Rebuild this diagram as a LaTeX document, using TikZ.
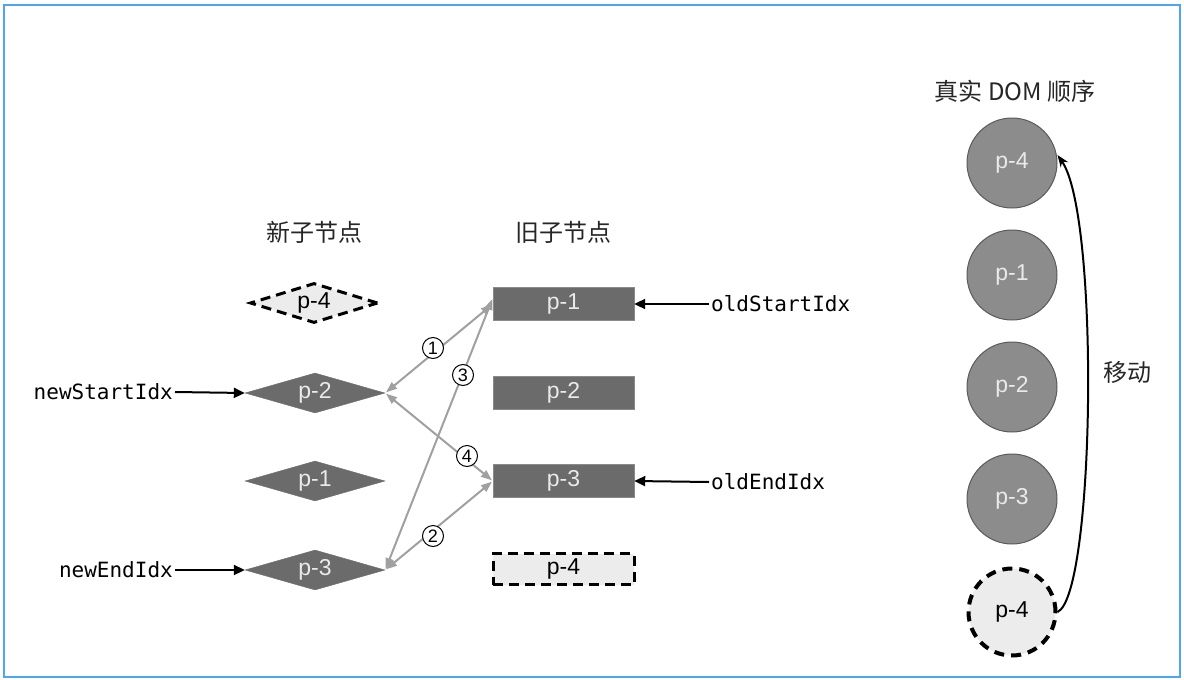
\documentclass[tikz,border=0pt]{standalone}
\usepackage{fontspec}
\setmainfont{Liberation Sans}
\newfontfamily\cjk{Noto Sans CJK SC}
\newfontfamily\monof{DejaVu Sans Mono}
\usetikzlibrary{shapes.geometric,arrows.meta}
\definecolor{dk}{HTML}{6B6B6B}
\definecolor{dkline}{HTML}{8A8A8A}
\definecolor{lt}{HTML}{EAEAEA}
\definecolor{pale}{HTML}{ECECEC}
\definecolor{circfill}{HTML}{8C8C8C}
\definecolor{circline}{HTML}{5A5A5A}
\definecolor{arrgray}{HTML}{A0A0A0}
\definecolor{frame}{HTML}{4DA6F2}
\begin{document}
\begin{tikzpicture}[x=1pt,y=-1pt,
  lbl/.style={font=\fontsize{23}{25}\selectfont},
  newd/.style={diamond, shape aspect=3.5, inner sep=0pt, minimum width=140pt, minimum height=40pt, fill=dk, draw=dk, text=lt, lbl},
  newdash/.style={diamond, shape aspect=3.5, inner sep=0pt, minimum width=128pt, minimum height=40pt, fill=pale, draw=black, line width=3pt, dash pattern=on 10pt off 6pt, text=black, lbl},
  oldr/.style={rectangle, inner sep=0pt, minimum width=141pt, minimum height=33pt, fill=dk, draw=dkline, text=lt, lbl},
  olddash/.style={rectangle, inner sep=0pt, minimum width=141pt, minimum height=31pt, fill=pale, draw=black, line width=3pt, dash pattern=on 10pt off 6pt, text=black, lbl},
  domc/.style={circle, inner sep=0pt, minimum size=90pt, fill=circfill, draw=circline, line width=1pt, text=lt, lbl},
  domdash/.style={circle, inner sep=0pt, minimum size=87pt, fill=pale, draw=black, line width=4pt, dash pattern=on 10pt off 7pt, text=black, lbl},
  title/.style={font=\cjk\fontsize{24}{26}\selectfont, text=black!85},
  idx/.style={font=\monof\fontsize{21}{23}\selectfont, inner sep=2pt},
  num/.style={circle, draw=black, line width=1pt, fill=white, inner sep=0pt, minimum size=21pt, font=\fontsize{18}{18}\selectfont},
  ptr/.style={-{Triangle[length=11pt,width=10pt]}, line width=2pt, black},
  cmp/.style={{Triangle[length=11pt,width=8pt]}-{Triangle[length=11pt,width=8pt]}, line width=2pt, draw=arrgray, shorten <=1pt, shorten >=1pt},
]
\useasboundingbox (0,0) rectangle (1184,680);
\draw[frame, line width=2.5pt] (4,5) rectangle (1180,677);

% titles
\node[title] (tnew) at (314,232) {新子节点};
\node[title] (told) at (563,232) {旧子节点};
\node[title] (tdom) at (1015,91) {真实 DOM 顺序};

% new children
\node[newdash] (n4) at (314,303) {p-4};
\node[newd] (n2) at (315,393) {p-2};
\node[newd] (n1) at (315,481) {p-1};
\node[newd] (n3) at (315,570) {p-3};

% old children
\node[oldr] (o1) at (563.5,304) {p-1};
\node[oldr] (o2) at (563.5,393) {p-2};
\node[oldr] (o3) at (563.5,481) {p-3};
\node[olddash] (o4) at (563.5,569) {p-4};

% index labels
\node[idx, anchor=east] (nsi) at (175,392) {newStartIdx};
\node[idx, anchor=east] (nei) at (175,570) {newEndIdx};
\node[idx, anchor=west] (osi) at (709,304) {oldStartIdx};
\node[idx, anchor=west] (oei) at (709,482) {oldEndIdx};
\draw[ptr] (nsi.east) -- (n2.west);
\draw[ptr] (nei.east) -- (n3.west);
\draw[ptr] (osi.west) -- (o1.east);
\draw[ptr] (oei.west) -- (o3.east);

% comparisons
\draw[cmp] (n2.east) -- (o1.west);
\draw[cmp] (n3.east) -- (o3.west);
\draw[cmp] (n3.east) -- ([yshift=6pt]o1.west);
\draw[cmp] (n2.east) -- (o3.west);
\node[num] (c1) at (433,348) {1};
\node[num] (c3) at (463,375) {3};
\node[num] (c4) at (467,456) {4};
\node[num] (c2) at (433,536) {2};

% real DOM
\node[domc] (d4) at (1012,163) {p-4};
\node[domc] (d1) at (1012,275) {p-1};
\node[domc] (d2) at (1012,387) {p-2};
\node[domc] (d3) at (1012,499) {p-3};
\node[domdash] (d4b) at (1012,612) {p-4};
\draw[-{Stealth[length=12pt,width=9pt]}, line width=2pt] (d4b.east) .. controls (1095,595) and (1100,215) .. ([yshift=8pt]d4.east);
\node[title] (move) at (1127,372) {移动};
\end{tikzpicture}
\end{document}
